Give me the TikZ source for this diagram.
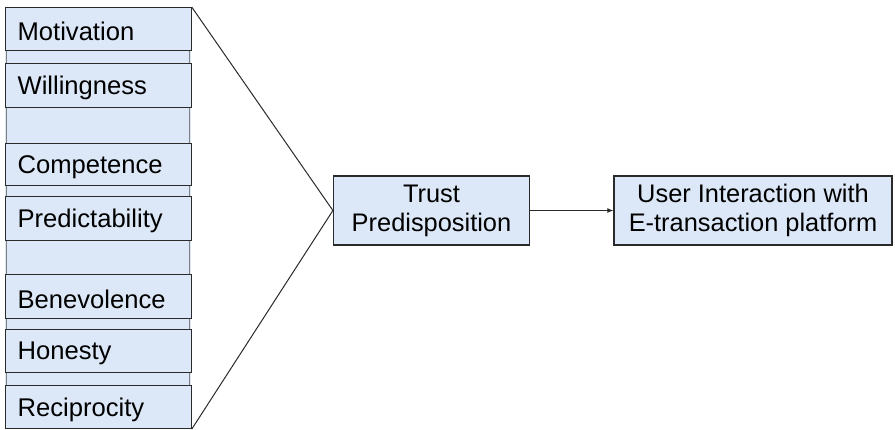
\documentclass[tikz,border=0pt]{standalone}
\usepackage{fontspec}
\setmainfont{Liberation Sans}
\usetikzlibrary{arrows.meta}
\definecolor{boxfill}{HTML}{DCE8F7}
\definecolor{boxline}{HTML}{2A2A2A}
\newcommand{\lowtext}[1]{\hspace*{4.5pt}\raisebox{-2.5pt}[\height][\depth]{#1}}
\tikzset{
  leftbox/.style={draw=boxline, line width=1.2pt, fill=boxfill, minimum width=186pt, text width=170pt, align=left, inner sep=0pt, anchor=north west, font=\fontsize{25.6}{29}\selectfont},
  gapbox/.style={draw=boxline!60, line width=0.8pt, fill=boxfill},
  centerbox/.style={draw=boxline, line width=1.2pt, fill=boxfill, align=center, inner sep=0pt, font=\fontsize{25.4}{29}\selectfont},
  link/.style={draw=boxline, line width=1pt},
}
\begin{document}
\begin{tikzpicture}[x=1pt,y=-1pt]
\useasboundingbox (0,0) rectangle (895,429);
% backdrop of the left column
\fill[boxfill] (5,7) rectangle (191,428);
\draw[gapbox] (6,50) rectangle (189,63);
\draw[gapbox] (6,107) rectangle (189,143);
\draw[gapbox] (6,185) rectangle (189,196);
\draw[gapbox] (6,240) rectangle (189,274);
\draw[gapbox] (6,318) rectangle (189,329);
\draw[gapbox] (6,372) rectangle (189,385);
% left boxes
\node[leftbox, minimum height=43pt] (mot) at (4.5,7) {\lowtext{Motivation}};
\node[leftbox, minimum height=44pt] (wil) at (4.5,63) {\lowtext{Willingness}};
\node[leftbox, minimum height=42pt] (com) at (4.5,143) {\lowtext{Competence}};
\node[leftbox, minimum height=44pt] (pre) at (4.5,196) {\lowtext{Predictability}};
\node[leftbox, minimum height=44pt] (ben) at (4.5,274) {\lowtext{Benevolence}};
\node[leftbox, minimum height=43pt] (hon) at (4.5,329) {\lowtext{Honesty}};
\node[leftbox, minimum height=43pt] (rec) at (4.5,385) {\lowtext{Reciprocity}};
% middle and right boxes
\node[centerbox, minimum width=196pt, minimum height=69pt] (trust) at (431.5,210.5) {Trust\\Predisposition};
\node[centerbox, minimum width=278pt, minimum height=69pt] (user) at (753,210.5) {User Interaction with\\E-transaction platform};
% connectors
\draw[link] (mot.north east) -- (trust.west);
\draw[link] (rec.south east) -- (trust.west);
\draw[link, -{Latex[length=6pt,width=5pt]}] (trust.east) -- (user.west);
\end{tikzpicture}
\end{document}
